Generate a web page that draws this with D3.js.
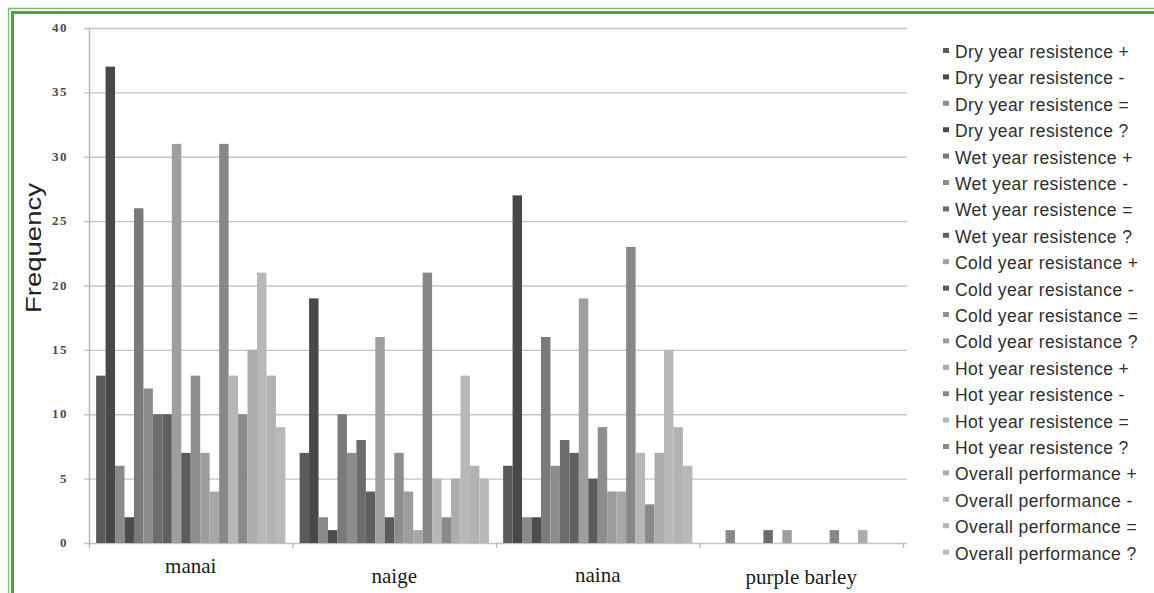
<!DOCTYPE html>
<html>
<head>
<meta charset="utf-8">
<script src="https://cdn.jsdelivr.net/npm/d3@7"></script>
<style>
  html, body { margin: 0; padding: 0; background: #fff; }
  svg { display: block; }
</style>
</head>
<body>
<svg id="chart" width="1154" height="593"></svg>
<script>
// Landraces on the x axis
const categories = ["manai", "naige", "naina", "purple barley"];

// Farmer assessment classes (one bar per class inside each landrace)
const seriesNames = [
  "Dry year resistence +", "Dry year resistence -", "Dry year resistence =", "Dry year resistence ?",
  "Wet year resistence +", "Wet year resistence -", "Wet year resistence =", "Wet year resistence ?",
  "Cold year resistance +", "Cold year resistance -", "Cold year resistance =", "Cold year resistance ?",
  "Hot year resistence +", "Hot year resistence -", "Hot year resistence =", "Hot year resistence ?",
  "Overall performance +", "Overall performance -", "Overall performance =", "Overall performance ?"
];

// Frequencies per landrace, in the order of seriesNames
const manai        = [13, 37, 6, 2, 26, 12, 10, 10, 31, 7, 13, 7, 4, 31, 13, 10, 15, 21, 13, 9];
const naige        = [7, 19, 2, 1, 10, 7, 8, 4, 16, 2, 7, 4, 1, 21, 5, 2, 5, 13, 6, 5];
const naina        = [6, 27, 2, 2, 16, 6, 8, 7, 19, 5, 9, 4, 4, 23, 7, 3, 7, 15, 9, 6];
const purpleBarley = [0, 0, 1, 0, 0, 0, 1, 0, 1, 0, 0, 0, 0, 1, 0, 0, 1, 0, 0, 0];

const yTicks = [0, 5, 10, 15, 20, 25, 30, 35, 40];

// Grey shades for the twenty classes
const shades = [
  "#5a5a5a", "#484848", "#8a8a8a", "#4c4c4c",
  "#7a7a7a", "#8c8c8c", "#6c6c6c", "#606060",
  "#9e9e9e", "#5c5c5c", "#8e8e8e", "#9c9c9c",
  "#a8a8a8", "#888888", "#b6b6b6", "#8a8a8a",
  "#acacac", "#b8b8b8", "#b2b2b2", "#b8b8b8"
];

const valuesByCategory = [manai, naige, naina, purpleBarley];

const svg = d3.select("#chart");

// Plot area
const plotLeft = 89, plotRight = 903, plotTop = 28, plotBottom = 543;

const x0 = d3.scaleBand().domain(categories).range([plotLeft, plotRight])
  .paddingInner(0.07).paddingOuter(0.035);
const x1 = d3.scaleBand().domain(seriesNames).range([0, x0.bandwidth()]);
const y = d3.scaleLinear().domain([0, 40]).range([plotBottom, plotTop]);
const color = d3.scaleOrdinal().domain(seriesNames).range(shades);

// Horizontal gridlines
svg.append("g").selectAll("line").data(yTicks).join("line")
  .attr("x1", plotLeft - 5).attr("x2", plotRight + 4)
  .attr("y1", d => y(d) + 0.5).attr("y2", d => y(d) + 0.5)
  .attr("stroke", "#c4c4c4").attr("stroke-width", 1.4);

// Y axis line
svg.append("line")
  .attr("x1", plotLeft + 0.5).attr("x2", plotLeft + 0.5)
  .attr("y1", plotTop).attr("y2", plotBottom + 1)
  .attr("stroke", "#b4b4b4").attr("stroke-width", 1.4);

// Y tick labels
svg.append("g").selectAll("text").data(yTicks).join("text")
  .attr("x", 68).attr("y", d => y(d) + 4)
  .attr("text-anchor", "end")
  .attr("font-family", "Liberation Serif, Times New Roman, serif")
  .attr("font-weight", "bold")
  .attr("font-size", 13)
  .attr("letter-spacing", 1.5)
  .attr("fill", "#4a4a4a")
  .text(d => d);

// Category tick marks below the baseline
const boundaries = categories.map(c => x0(c) - x0.step() * x0.paddingInner() / 2);
boundaries.push(plotRight);
boundaries[0] = plotLeft;
svg.append("g").selectAll("line").data(boundaries).join("line")
  .attr("x1", d => d + 0.5).attr("x2", d => d + 0.5)
  .attr("y1", plotBottom).attr("y2", plotBottom + 5)
  .attr("stroke", "#b4b4b4").attr("stroke-width", 1.2);

// Bars
const groups = svg.append("g").selectAll("g").data(categories).join("g")
  .attr("transform", d => `translate(${x0(d)},0)`);

groups.selectAll("rect")
  .data((c, i) => seriesNames.map((s, j) => ({ s, v: valuesByCategory[i][j] })).filter(d => d.v > 0))
  .join("rect")
  .attr("x", d => x1(d.s))
  .attr("width", x1.bandwidth())
  .attr("y", d => y(d.v))
  .attr("height", d => y(0) - y(d.v))
  .attr("fill", d => color(d.s));

// Category labels
const labelBaseline = [573, 583, 582, 584];
svg.append("g").selectAll("text").data(categories).join("text")
  .attr("x", d => x0(d) + x0.bandwidth() / 2)
  .attr("y", (d, i) => labelBaseline[i])
  .attr("text-anchor", "middle")
  .attr("font-family", "Liberation Serif, Times New Roman, serif")
  .attr("font-size", 21)
  .attr("fill", "#1a1a1a")
  .text(d => d);

// Y axis title
svg.append("text")
  .attr("transform", "translate(41,248) rotate(-90) scale(1.25,1)")
  .attr("text-anchor", "middle")
  .attr("font-family", "Liberation Sans, Arial, sans-serif")
  .attr("font-size", 22)
  .attr("fill", "#222")
  .text("Frequency");

// Legend
const legend = svg.append("g").selectAll("g").data(seriesNames).join("g")
  .attr("transform", (d, i) => `translate(943,${58 + i * 26.4})`);
legend.append("rect")
  .attr("x", 0).attr("y", -10).attr("width", 6).attr("height", 5)
  .attr("fill", d => color(d));
legend.append("text")
  .attr("x", 12).attr("y", 0)
  .attr("font-family", "Liberation Sans, Arial, sans-serif")
  .attr("font-size", 17.5)
  .attr("letter-spacing", 0.4)
  .attr("fill", "#2e2e2e")
  .text(d => d);

// Double green frame (top and left edges)
const frame = svg.append("g").attr("fill", "none");
frame.append("path").attr("d", "M8.5,593 V8.5 H1154")
  .attr("stroke", "#74c060").attr("stroke-width", 1.3);
frame.append("path").attr("d", "M12.5,593 V12.5 H1154")
  .attr("stroke", "#4fa33a").attr("stroke-width", 3);
</script>
</body>
</html>
